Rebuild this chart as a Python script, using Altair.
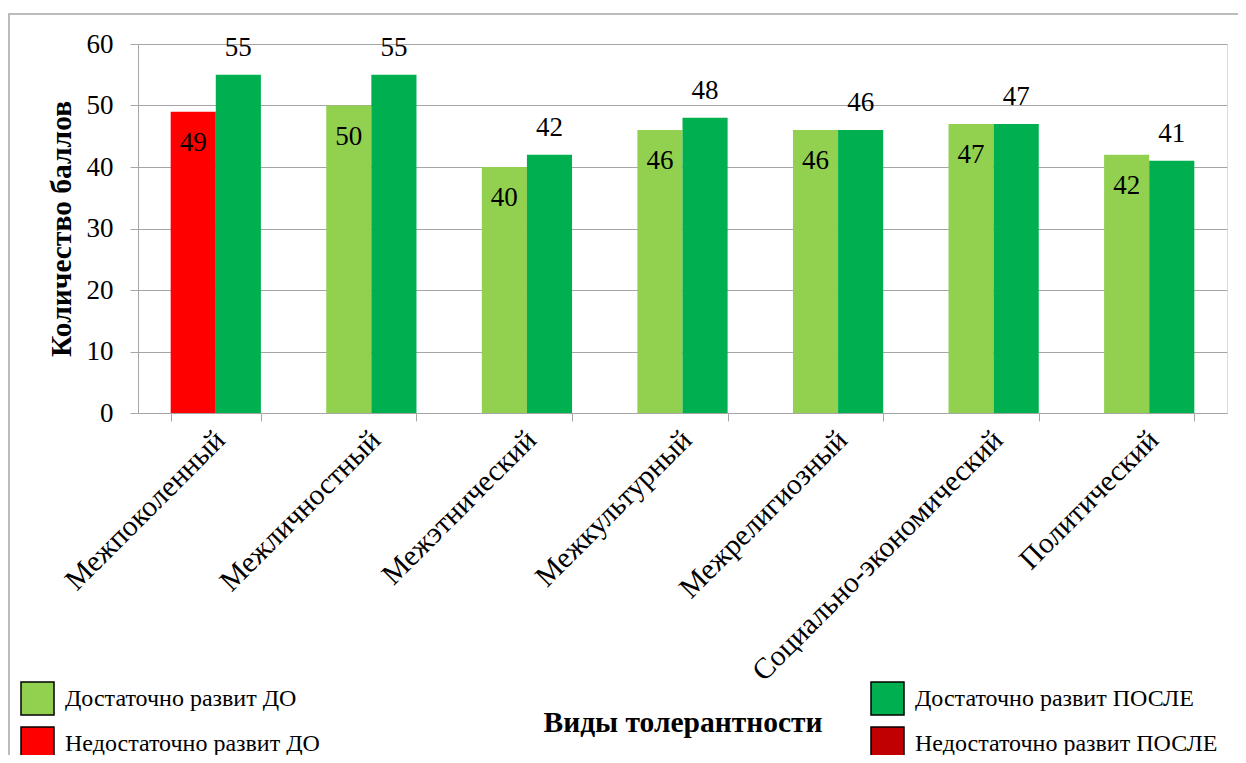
import altair as alt
import pandas as pd

categories = ["Межпоколенный", "Межличностный", "Межэтнический", "Межкультурный",
              "Межрелигиозный", "Социально-экономический", "Политический"]
before_values = [49, 50, 40, 46, 46, 47, 42]
after_values = [55, 55, 42, 48, 46, 47, 41]
before_levels = ["Недостаточно развит ДО"] + ["Достаточно развит ДО"] * 6
after_levels = ["Достаточно развит ПОСЛЕ"] * 7
periods = ["ДО", "ПОСЛЕ"]
legend_labels = ["Достаточно развит ДО", "Недостаточно развит ДО",
                 "Достаточно развит ПОСЛЕ", "Недостаточно развит ПОСЛЕ"]
legend_colors = ["#92D050", "#FF0000", "#00B050", "#C00000"]
y_ticks = [0, 10, 20, 30, 40, 50, 60]

rows = []
for c, b, bl, a, al in zip(categories, before_values, before_levels, after_values, after_levels):
    rows.append({"cat": c, "period": "ДО", "value": b, "level": bl})
    rows.append({"cat": c, "period": "ПОСЛЕ", "value": a, "level": al})
df = pd.DataFrame(rows)

FONT = "Liberation Serif"

x_enc = alt.X("cat:N", sort=categories,
              scale=alt.Scale(paddingInner=0.42, paddingOuter=0.21),
              axis=alt.Axis(title="Виды толерантности", labelAngle=-45,
                            labelAlign="right", labelBaseline="middle",
                            labelPadding=14, labelOffset=4, labelLimit=500,
                            labelFontSize=29.5, labelFont=FONT, labelColor="black",
                            tickBand="extent", tickSize=8, tickColor="#A6A6A6",
                            domainColor="#A6A6A6", grid=False,
                            titleFont=FONT, titleFontSize=29.5, titleFontWeight="bold",
                            titleColor="black", titleX=544.5, titleY=318,
                            titleAlign="center", titleBaseline="alphabetic"))
xo_enc = alt.XOffset("period:N", sort=periods,
                     scale=alt.Scale(paddingInner=0, paddingOuter=0))
y_enc = alt.Y("value:Q", scale=alt.Scale(domain=[0, 60], nice=False),
              axis=alt.Axis(title="Количество баллов", values=y_ticks,
                            grid=True, gridColor="#A6A6A6", gridWidth=1,
                            tickSize=8, tickColor="#A6A6A6", domainColor="#A6A6A6",
                            labelFontSize=27, labelFont=FONT, labelColor="black",
                            labelPadding=17,
                            titleFont=FONT, titleFontSize=29.5, titleFontWeight="bold",
                            titleColor="black", titleAngle=270, titleX=-68, titleY=184.5,
                            titleAlign="center", titleBaseline="alphabetic"))

bars = alt.Chart(df).mark_bar(opacity=1).encode(
    x=x_enc, xOffset=xo_enc, y=y_enc,
    color=alt.Color("level:N",
                    scale=alt.Scale(domain=legend_labels, range=legend_colors),
                    legend=alt.Legend(title=None, orient="none", legendX=-118, legendY=637,
                                      columns=2, columnPadding=548, rowPadding=6,
                                      symbolType="square", symbolSize=1089,
                                      symbolStrokeColor="black", symbolStrokeWidth=1.5,
                                      symbolOpacity=1,
                                      labelFont=FONT, labelFontSize=24, labelColor="black",
                                      labelOffset=10, labelLimit=600, padding=0)),
)

labels_before = alt.Chart(df).transform_filter(alt.datum.period == "ДО").mark_text(
    font=FONT, fontSize=27, color="black", baseline="middle", dy=31
).encode(x=alt.X("cat:N", sort=categories), xOffset=alt.XOffset("period:N", sort=periods),
         y="value:Q", text="value:Q")

labels_after = alt.Chart(df).transform_filter(alt.datum.period == "ПОСЛЕ").mark_text(
    font=FONT, fontSize=27, color="black", baseline="middle", dy=-27
).encode(x=alt.X("cat:N", sort=categories), xOffset=alt.XOffset("period:N", sort=periods),
         y="value:Q", text="value:Q")

border = alt.Chart(pd.DataFrame({"d": [0]})).mark_rect(
    fill="white", fillOpacity=0, stroke="#A6A6A6", strokeWidth=1.5
).encode(x=alt.value(-129), x2=alt.value(1300), y=alt.value(-30), y2=alt.value(900))

chart = alt.layer(border, bars, labels_before, labels_after).properties(
    width=1089, height=369,
    autosize=alt.AutoSizeParams(type="none"),
    padding={"left": 130, "top": 36, "right": 11, "bottom": 342},
).configure_view(stroke=None).configure(background="white", font=FONT)

chart.save("out.html", embed_options={"renderer": "svg", "actions": False})
